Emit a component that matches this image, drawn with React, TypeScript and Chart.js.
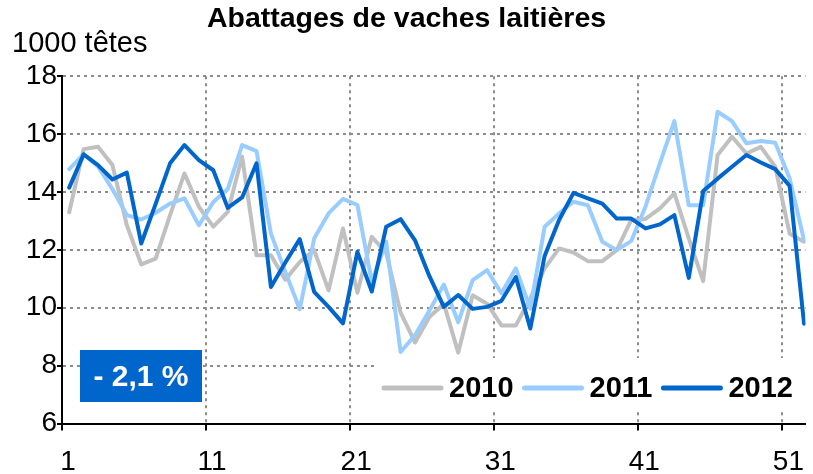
import React, { useEffect, useRef } from 'react';
import { Chart, registerables } from 'chart.js';

Chart.register(...registerables);

// ---------------- DATA ----------------
const chartTitle = 'Abattages de vaches laitières';
const unitLabel = '1000 têtes';
const boxText = '- 2,1 %';

const weeks = [
  1, 2, 3, 4, 5, 6, 7, 8, 9, 10, 11, 12, 13, 14, 15, 16, 17, 18, 19, 20, 21, 22, 23, 24, 25, 26,
  27, 28, 29, 30, 31, 32, 33, 34, 35, 36, 37, 38, 39, 40, 41, 42, 43, 44, 45, 46, 47, 48, 49, 50, 51, 52,
];

const seriesLabels = ['2010', '2011', '2012'];

const values2010 = [
  13.3, 15.48, 15.56, 14.93, 12.85, 11.5, 11.7, 13.2, 14.64, 13.49, 12.8, 13.31, 15.22,
  11.81, 11.81, 10.97, 11.58, 11.99, 10.6, 12.74, 10.52, 12.45, 11.9, 9.83, 8.8, 9.68,
  10.14, 8.45, 10.43, 10.14, 9.39, 9.39, 10.32, 11.36, 12.05, 11.91, 11.61, 11.61, 11.99,
  13.03, 13.07, 13.43, 13.95, 12.4, 10.92, 15.28, 15.91, 15.33, 15.56, 14.87, 12.56, 12.28,
];

const values2011 = [
  14.79, 15.3, 14.88, 14.1, 13.2, 13.05, 13.28, 13.6, 13.78, 12.85, 13.65, 14.1, 15.62,
  15.41, 12.56, 11.24, 9.95, 12.39, 13.26, 13.76, 13.55, 10.9, 12.28, 8.47, 9.05, 9.9,
  10.8, 9.5, 10.95, 11.3, 10.5, 11.36, 9.97, 12.8, 13.26, 13.66, 13.54, 12.28, 11.99,
  12.3, 13.5, 15.0, 16.45, 13.54, 13.54, 16.77, 16.45, 15.68, 15.76, 15.7, 14.47, 12.33,
];

const values2012 = [
  14.15, 15.3, 14.93, 14.43, 14.67, 12.22, 13.59, 14.99, 15.62, 15.1, 14.75, 13.45, 13.81,
  14.99, 10.72, 11.56, 12.37, 10.55, 10.03, 9.46, 11.93, 10.56, 12.8, 13.06, 12.33, 11.09,
  10.03, 10.44, 9.96, 10.03, 10.24, 11.06, 9.28, 11.8, 13.03, 13.97, 13.78, 13.6, 13.08,
  13.08, 12.74, 12.88, 13.2, 11.03, 14.03, 14.46, 14.87, 15.28, 15.02, 14.79, 14.21, 9.45,
];

const xTickWeeks = [1, 11, 21, 31, 41, 51];
const yMin = 6;
const yMax = 18;
const yStep = 2;

// ---------------- STYLES ----------------
const FONT = '"Liberation Sans", Arial, Helvetica, sans-serif';
const seriesColors = ['#C0C0C0', '#99CCFF', '#0066CC'];
const boxColor = '#0066CC';
const gridColor = '#8C8C8C';
const W = 813;
const H = 474;

const overlayPlugin = {
  id: 'overlay',
  afterDraw(chart: any) {
    const ctx: CanvasRenderingContext2D = chart.ctx;
    ctx.save();

    // unit label
    ctx.font = `29px ${FONT}`;
    ctx.fillStyle = '#000';
    ctx.textAlign = 'left';
    ctx.textBaseline = 'alphabetic';
    ctx.fillText(unitLabel, 12, 52);

    // blue box with change
    const bx = 80, by = 350, bw = 122, bh = 52;
    ctx.fillStyle = boxColor;
    ctx.fillRect(bx, by, bw, bh);
    ctx.fillStyle = '#fff';
    ctx.font = `bold 30px ${FONT}`;
    ctx.textAlign = 'center';
    ctx.textBaseline = 'middle';
    ctx.fillText(boxText, bx + bw / 2, by + bh / 2 + 2);

    // legend
    ctx.fillStyle = '#fff';
    ctx.fillRect(374, 358, W - 374, 52);
    const ly = 388;
    let x = 384;
    ctx.font = `bold 29px ${FONT}`;
    ctx.textAlign = 'left';
    ctx.textBaseline = 'middle';
    seriesLabels.forEach((lab, i) => {
      ctx.strokeStyle = seriesColors[i];
      ctx.lineWidth = 5;
      ctx.lineCap = 'round';
      ctx.beginPath();
      ctx.moveTo(x, ly);
      ctx.lineTo(x + 57, ly);
      ctx.stroke();
      ctx.fillStyle = '#000';
      ctx.fillText(lab, x + 65, ly + 1);
      const tw = ctx.measureText(lab).width;
      x = x + 65 + tw + 11;
    });

    ctx.restore();
  },
};

export default function App() {
  const canvasRef = useRef<HTMLCanvasElement | null>(null);

  useEffect(() => {
    const canvas = canvasRef.current;
    if (!canvas) return;
    const seriesValues = [values2010, values2011, values2012];
    const datasets = seriesLabels.map((lab, i) => ({
      label: lab,
      data: weeks.map((w, j) => ({ x: w, y: seriesValues[i][j] })),
      borderColor: seriesColors[i],
      backgroundColor: seriesColors[i],
      borderWidth: 4,
      pointRadius: 0,
      tension: 0,
      fill: false,
      borderJoinStyle: 'round' as const,
      borderCapStyle: 'round' as const,
      order: 3 - i,
    }));

    const chart = new Chart(canvas, {
      type: 'line',
      data: { datasets },
      options: {
        animation: false,
        responsive: false,
        maintainAspectRatio: false,
        layout: { padding: 0 },
        plugins: {
          legend: { display: false },
          tooltip: { enabled: false },
          title: {
            display: true,
            text: chartTitle,
            color: '#000',
            font: { family: FONT, size: 28.5, weight: 'bold' },
            padding: { top: 2, bottom: 40 },
          },
        },
        scales: {
          x: {
            type: 'linear',
            min: 0.5,
            max: 52.1,
            bounds: 'data',
            afterBuildTicks: (s: any) => {
              s.ticks = xTickWeeks.map((w) => ({ value: w - 0.5 }));
            },
            afterFit: (s: any) => {
              s.height = 50.5;
            },
            ticks: {
              autoSkip: false,
              maxRotation: 0,
              minRotation: 0,
              labelOffset: 6,
              padding: 15,
              color: '#000',
              font: { family: FONT, size: 28 },
              callback: (v: any) => String(Number(v) + 0.5),
            },
            grid: {
              color: (c: any) => (c.tick && c.tick.value === 0.5 ? 'rgba(0,0,0,0)' : gridColor),
              lineWidth: 2,
              tickColor: '#000',
              tickWidth: 2,
              tickLength: 7,
              drawTicks: true,
            },
            border: { display: true, color: '#000', width: 2, dash: [3, 4] },
          },
          y: {
            min: yMin,
            max: yMax,
            afterFit: (s: any) => {
              s.width = 62;
            },
            ticks: {
              stepSize: yStep,
              padding: 0,
              color: '#000',
              font: { family: FONT, size: 28 },
            },
            grid: {
              color: (c: any) => (c.tick && c.tick.value === yMin ? 'rgba(0,0,0,0)' : gridColor),
              lineWidth: 2,
              tickColor: '#000',
              tickWidth: 2,
              tickLength: 5,
              drawTicks: true,
            },
            border: { display: true, color: '#000', width: 2, dash: [3, 4] },
          },
        },
      } as any,
      plugins: [overlayPlugin],
    });

    return () => {
      chart.destroy();
    };
  }, []);

  return (
    <div style={{ position: 'fixed', left: 0, top: 0, width: W, height: H, overflow: 'hidden', background: '#fff' }}>
      <canvas ref={canvasRef} width={W} height={H} style={{ display: 'block' }} />
    </div>
  );
}
